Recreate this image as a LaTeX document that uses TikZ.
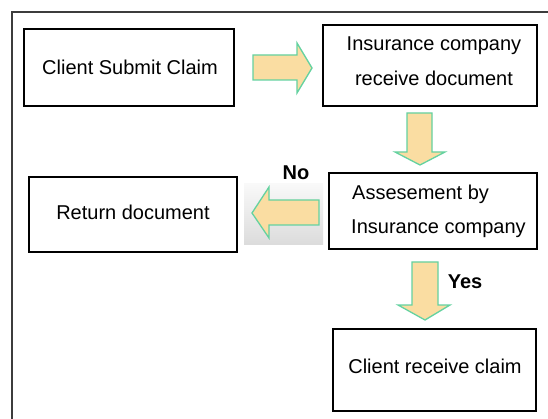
\documentclass[tikz,border=0pt]{standalone}
\usepackage{fontspec}
\setmainfont{Liberation Sans}
\definecolor{arrfill}{RGB}{250,221,162}
\definecolor{arrline}{RGB}{100,210,160}
\definecolor{framec}{RGB}{60,60,60}
\begin{document}
\begin{tikzpicture}[x=1pt,y=-1pt,
  box/.style={draw=black,line width=1.4pt,fill=white},
  lbl/.style={font=\fontsize{20}{24}\selectfont,inner sep=0pt},
  blbl/.style={font=\fontsize{20}{24}\selectfont\bfseries,inner sep=0pt},
  fatarrow/.style={fill=arrfill,draw=arrline,line width=1.3pt,line join=miter}]
\useasboundingbox (0,0) rectangle (548,419);
\fill[white] (0,0) rectangle (548,419);
% outer frame
\draw[framec,line width=2pt] (12,430) -- (12,12) -- (560,12);
% boxes
\draw[box] (24,29) rectangle (234,106);
\node[lbl] (t1) at (130,67) {Client Submit Claim};
\draw[box] (323,25) rectangle (537,106);
\node[lbl] (t2a) at (434,46) {Insurance company};
\node[lbl] (t2b) at (434,78) {receive document};
\draw[box] (329,173) rectangle (537,249);
\node[lbl,anchor=west] (t3a) at (352,194) {Assesement by};
\node[lbl,anchor=west] (t3b) at (351,229) {Insurance company};
\draw[box] (29,177) rectangle (237,252);
\node[lbl] (t4) at (133,212) {Return document};
\draw[box] (333,329) rectangle (536,411);
\node[lbl] (t5) at (435,366) {Client receive claim};
% arrows
\draw[fatarrow] (253,55) -- (297,55) -- (297,43) -- (312,68) -- (297,93) -- (297,80) -- (253,80) -- cycle;
\draw[fatarrow] (407,113) -- (432,113) -- (432,152) -- (445,152) -- (420,165) -- (395,152) -- (407,152) -- cycle;
\shade[top color=gray!5,bottom color=gray!28] (244,184) rectangle (323,245);
\draw[fatarrow] (319,200) -- (269,200) -- (269,187) -- (252,213) -- (269,238) -- (269,225) -- (319,225) -- cycle;
\draw[fatarrow] (412,262) -- (438,262) -- (438,305) -- (450,305) -- (425,320) -- (398,305) -- (412,305) -- cycle;
% labels
\node[blbl] (no) at (296,173) {No};
\node[blbl] (yes) at (465,282) {Yes};
\end{tikzpicture}
\end{document}
